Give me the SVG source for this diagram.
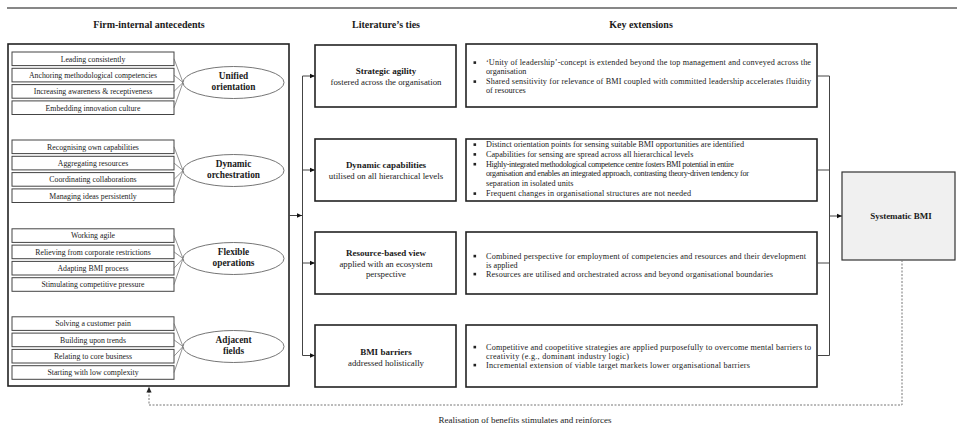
<svg xmlns="http://www.w3.org/2000/svg" width="957" height="430" viewBox="0 0 957 430">
<style>
text{font-family:"Liberation Serif","Times New Roman",serif;fill:#1a1a1a}
.h{font-weight:bold;font-size:10px;text-anchor:middle}
.sb{font-size:7.8px;text-anchor:middle}
.el{font-weight:bold;font-size:9.3px;text-anchor:middle}
.mb{font-weight:bold;font-size:9px;text-anchor:middle}
.mr{font-size:8.8px;text-anchor:middle}
.fb{font-size:9px;text-anchor:middle}
.rb{font-size:8.2px}
.sbox{fill:#fff;stroke:#444;stroke-width:1}
.ell{fill:#fff;stroke:#666;stroke-width:0.9}
.big{fill:#fff;stroke:#222;stroke-width:1.6}
.conv{fill:none;stroke:#666;stroke-width:0.7}
.con{fill:none;stroke:#444;stroke-width:1}
.dot{fill:none;stroke:#777;stroke-width:1;stroke-dasharray:2 1.5}
.bul{fill:#222}
</style>
<defs>
<marker id="ah" markerWidth="7" markerHeight="7" refX="5.5" refY="3" orient="auto" markerUnits="userSpaceOnUse"><path d="M0,0.4 L5.5,3 L0,5.6z" fill="#111"/></marker>
<marker id="ahd" markerWidth="7" markerHeight="7" refX="5.5" refY="3" orient="auto" markerUnits="userSpaceOnUse"><path d="M0,0.4 L5.5,3 L0,5.6z" fill="#222"/></marker>
</defs>

<line x1="7" y1="8" x2="957" y2="8" stroke="#111" stroke-width="1.2"/>
<text class="h" x="149" y="27.5">Firm-internal antecedents</text>
<text class="h" x="386" y="27.5">Literature’s ties</text>
<text class="h" x="641" y="27.5">Key extensions</text>

<g id="antecedents">
<rect class="big" x="8" y="44" width="281" height="342"/>
</g>

<g id="unified">
<rect class="sbox" x="12" y="52" width="162" height="13.6"/>
<rect class="sbox" x="12" y="68.3" width="162" height="13.6"/>
<rect class="sbox" x="12" y="84.6" width="162" height="13.6"/>
<rect class="sbox" x="12" y="100.9" width="162" height="13.6"/>
<text class="sb" x="93" y="61.6">Leading consistently</text>
<text class="sb" x="93" y="77.9">Anchoring methodological competencies</text>
<text class="sb" x="93" y="94.2">Increasing awareness &amp; receptiveness</text>
<text class="sb" x="93" y="110.5">Embedding innovation culture</text>
<path class="conv" d="M174,58.8 L183,82.5 M174,75.1 L183,82.5 M174,91.4 L183,82.5 M174,107.7 L183,82.5"/>
<ellipse class="ell" cx="233.5" cy="82.5" rx="50.5" ry="16"/>
<text class="el" x="233.5" y="79">Unified</text>
<text class="el" x="233.5" y="90">orientation</text>
</g>

<g id="dynamic">
<rect class="sbox" x="12" y="140" width="162" height="13.6"/>
<rect class="sbox" x="12" y="156.3" width="162" height="13.6"/>
<rect class="sbox" x="12" y="172.6" width="162" height="13.6"/>
<rect class="sbox" x="12" y="188.9" width="162" height="13.6"/>
<text class="sb" x="93" y="149.6">Recognising own capabilities</text>
<text class="sb" x="93" y="165.9">Aggregating resources</text>
<text class="sb" x="93" y="182.2">Coordinating collaborations</text>
<text class="sb" x="93" y="198.5">Managing ideas persistently</text>
<path class="conv" d="M174,146.8 L183,170.5 M174,163.1 L183,170.5 M174,179.4 L183,170.5 M174,195.7 L183,170.5"/>
<ellipse class="ell" cx="233.5" cy="170.5" rx="50.5" ry="16"/>
<text class="el" x="233.5" y="167">Dynamic</text>
<text class="el" x="233.5" y="178">orchestration</text>
</g>

<g id="flexible">
<rect class="sbox" x="12" y="228.8" width="162" height="13.6"/>
<rect class="sbox" x="12" y="245.1" width="162" height="13.6"/>
<rect class="sbox" x="12" y="261.4" width="162" height="13.6"/>
<rect class="sbox" x="12" y="277.7" width="162" height="13.6"/>
<text class="sb" x="93" y="238.4">Working agile</text>
<text class="sb" x="93" y="254.7">Relieving from corporate restrictions</text>
<text class="sb" x="93" y="271">Adapting BMI process</text>
<text class="sb" x="93" y="287.3">Stimulating competitive pressure</text>
<path class="conv" d="M174,235.6 L183,258.5 M174,251.9 L183,258.5 M174,268.2 L183,258.5 M174,284.5 L183,258.5"/>
<ellipse class="ell" cx="233.5" cy="258.5" rx="50.5" ry="16"/>
<text class="el" x="233.5" y="255">Flexible</text>
<text class="el" x="233.5" y="266">operations</text>
</g>

<g id="adjacent">
<rect class="sbox" x="12" y="316.8" width="162" height="13.6"/>
<rect class="sbox" x="12" y="333.1" width="162" height="13.6"/>
<rect class="sbox" x="12" y="349.4" width="162" height="13.6"/>
<rect class="sbox" x="12" y="365.7" width="162" height="13.6"/>
<text class="sb" x="93" y="326.4">Solving a customer pain</text>
<text class="sb" x="93" y="342.7">Building upon trends</text>
<text class="sb" x="93" y="359">Relating to core business</text>
<text class="sb" x="93" y="375.3">Starting with low complexity</text>
<path class="conv" d="M174,323.6 L183,346.5 M174,339.9 L183,346.5 M174,356.2 L183,346.5 M174,372.5 L183,346.5"/>
<ellipse class="ell" cx="233.5" cy="346.5" rx="50.5" ry="16"/>
<text class="el" x="233.5" y="343">Adjacent</text>
<text class="el" x="233.5" y="354">fields</text>
</g>

<g id="strategic-agility">
<rect class="big" x="315" y="45" width="141" height="62"/>
<text class="mb" x="386" y="74">Strategic agility</text>
<text class="mr" x="386" y="85">fostered across the organisation</text>
</g>
<g id="dynamic-capabilities">
<rect class="big" x="315" y="139" width="141" height="62"/>
<text class="mb" x="386" y="168">Dynamic capabilities</text>
<text class="mr" x="386" y="179">utilised on all hierarchical levels</text>
</g>
<g id="resource-based-view">
<rect class="big" x="315" y="232" width="141" height="62"/>
<text class="mb" x="386" y="256">Resource-based view</text>
<text class="mr" x="386" y="266.5">applied with an ecosystem</text>
<text class="mr" x="386" y="277">perspective</text>
</g>
<g id="bmi-barriers">
<rect class="big" x="315" y="325" width="141" height="62"/>
<text class="mb" x="386" y="355">BMI barriers</text>
<text class="mr" x="386" y="365.5">addressed holistically</text>
</g>

<g id="ext-1">
<rect class="big" x="466" y="44" width="351" height="63"/>
<rect class="bul" x="473.5" y="61.3" width="2.6" height="2.6"/>
<rect class="bul" x="473.5" y="80.3" width="2.6" height="2.6"/>
<text class="rb" x="486" y="65" textLength="325">‘Unity of leadership’-concept is extended beyond the top management and conveyed across the</text>
<text class="rb" x="486" y="74.3">organisation</text>
<text class="rb" x="486" y="84" textLength="325">Shared sensitivity for relevance of BMI coupled with committed leadership accelerates fluidity</text>
<text class="rb" x="486" y="93.3">of resources</text>
</g>
<g id="ext-2">
<rect class="big" x="466" y="139" width="351" height="62"/>
<rect class="bul" x="473.5" y="143.3" width="2.6" height="2.6"/>
<rect class="bul" x="473.5" y="153.1" width="2.6" height="2.6"/>
<rect class="bul" x="473.5" y="162.9" width="2.6" height="2.6"/>
<rect class="bul" x="473.5" y="192.3" width="2.6" height="2.6"/>
<text class="rb" x="486" y="147" textLength="258">Distinct orientation points for sensing suitable BMI opportunities are identified</text>
<text class="rb" x="486" y="156.8">Capabilities for sensing are spread across all hierarchical levels</text>
<text class="rb" x="486" y="166.6" textLength="248">Highly-integrated methodological competence centre fosters BMI potential in entire</text>
<text class="rb" x="486" y="176.4" textLength="263">organisation and enables an integrated approach, contrasting theory-driven tendency for</text>
<text class="rb" x="486" y="186.2">separation in isolated units</text>
<text class="rb" x="486" y="196" textLength="205">Frequent changes in organisational structures are not needed</text>
</g>
<g id="ext-3">
<rect class="big" x="466" y="232" width="351" height="62"/>
<rect class="bul" x="473.5" y="254.8" width="2.6" height="2.6"/>
<rect class="bul" x="473.5" y="272.8" width="2.6" height="2.6"/>
<text class="rb" x="486" y="258.5" textLength="320">Combined perspective for employment of competencies and resources and their development</text>
<text class="rb" x="486" y="267.5">is applied</text>
<text class="rb" x="486" y="276.5" textLength="287">Resources are utilised and orchestrated across and beyond organisational boundaries</text>
</g>
<g id="ext-4">
<rect class="big" x="466" y="325" width="351" height="62"/>
<rect class="bul" x="473.5" y="345.8" width="2.6" height="2.6"/>
<rect class="bul" x="473.5" y="363.8" width="2.6" height="2.6"/>
<text class="rb" x="486" y="349.5" textLength="325">Competitive and coopetitive strategies are applied purposefully to overcome mental barriers to</text>
<text class="rb" x="486" y="358.5" textLength="143">creativity (e.g., dominant industry logic)</text>
<text class="rb" x="486" y="367.5" textLength="264">Incremental extension of viable target markets lower organisational barriers</text>
</g>

<g id="systematic-bmi">
<rect x="842" y="172" width="113" height="88" fill="#f0f0f0" stroke="#333" stroke-width="1.2"/>
<text class="mb" x="901" y="219">Systematic BMI</text>
</g>

<g id="connectors">
<path class="con" d="M289,215.5 H302" marker-end="url(#ah)"/>
<path class="con" d="M302.5,76 V355.5"/>
<path class="con" d="M302.5,76 H315" marker-end="url(#ah)"/>
<path class="con" d="M302.5,170 H315" marker-end="url(#ah)"/>
<path class="con" d="M302.5,263 H315" marker-end="url(#ah)"/>
<path class="con" d="M302.5,355.5 H315" marker-end="url(#ah)"/>
<path class="con" d="M817,76 H829.5 M817,170 H829.5 M817,263 H829.5 M817,355.5 H829.5 M829.5,76 V355.5"/>
<path class="con" d="M829.5,216 H842" stroke="#888" marker-end="url(#ah)"/>
<path class="dot" d="M902,260 V405 H149 V387" marker-end="url(#ahd)"/>
</g>
<text class="fb" x="525" y="423">Realisation of benefits stimulates and reinforces</text>
</svg>
